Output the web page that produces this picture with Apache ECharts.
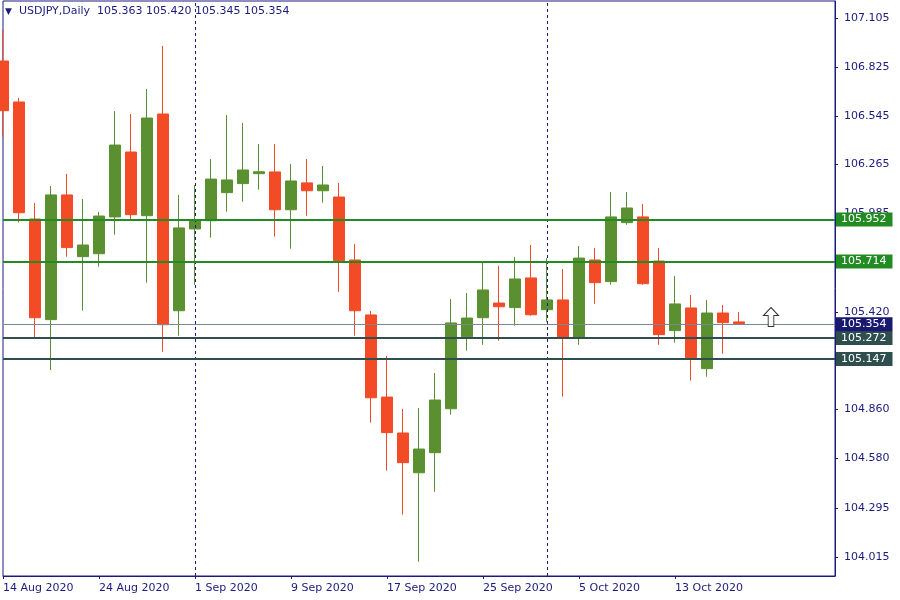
<!DOCTYPE html>
<html>
<head>
<meta charset="utf-8">
<script src="https://cdn.jsdelivr.net/npm/echarts@6/dist/echarts.min.js"></script>
<style>html,body{margin:0;padding:0;background:#fff}#c{width:900px;height:600px}</style>
</head>
<body>
<div id="c"></div>
<script>
const dates = ['14 Aug 2020','17 Aug 2020','18 Aug 2020','19 Aug 2020','20 Aug 2020','21 Aug 2020','24 Aug 2020','25 Aug 2020','26 Aug 2020','27 Aug 2020','28 Aug 2020','31 Aug 2020','1 Sep 2020','2 Sep 2020','3 Sep 2020','4 Sep 2020','7 Sep 2020','8 Sep 2020','9 Sep 2020','10 Sep 2020','11 Sep 2020','14 Sep 2020','15 Sep 2020','16 Sep 2020','17 Sep 2020','18 Sep 2020','21 Sep 2020','22 Sep 2020','23 Sep 2020','24 Sep 2020','25 Sep 2020','28 Sep 2020','29 Sep 2020','30 Sep 2020','1 Oct 2020','2 Oct 2020','5 Oct 2020','6 Oct 2020','7 Oct 2020','8 Oct 2020','9 Oct 2020','12 Oct 2020','13 Oct 2020','14 Oct 2020','15 Oct 2020','16 Oct 2020','19 Oct 2020'];
const opens  = [106.859,106.624,105.953,105.376,106.091,105.737,105.754,105.965,106.337,105.972,106.555,105.427,105.896,105.943,106.104,106.156,106.213,106.223,106.006,106.160,106.115,106.079,105.718,105.403,104.932,104.726,104.498,104.613,104.865,105.278,105.387,105.471,105.445,105.615,105.433,105.489,105.272,105.718,105.594,105.932,105.965,105.712,105.313,105.443,105.095,105.414,105.363];
const highs  = [107.037,106.647,106.045,106.142,106.211,106.068,105.993,106.572,106.555,106.699,106.945,106.091,106.148,106.297,106.549,106.504,106.383,106.383,106.268,106.297,106.257,106.160,105.810,105.426,105.168,104.864,104.869,105.070,105.494,105.529,105.701,105.684,105.735,105.804,105.729,105.666,105.798,105.787,106.108,106.108,106.039,105.787,105.626,105.517,105.489,105.460,105.420];
const lows   = [106.425,105.932,105.272,105.087,105.737,105.427,105.680,105.863,105.943,105.588,105.192,105.284,105.575,105.846,105.995,106.052,106.121,105.852,105.783,105.972,106.047,105.536,105.284,104.785,104.510,104.258,103.988,104.389,104.831,105.198,105.232,105.255,105.341,105.399,105.364,104.934,105.232,105.467,105.576,105.920,105.576,105.232,105.244,105.026,105.049,105.181,105.345];
const closes = [106.574,105.989,105.387,106.091,105.789,105.804,105.970,106.377,105.978,106.532,105.347,105.902,105.947,106.182,106.177,106.234,106.224,106.006,106.171,106.115,106.148,105.714,105.427,104.928,104.728,104.556,104.634,104.915,105.357,105.385,105.546,105.450,105.609,105.404,105.489,105.272,105.729,105.588,105.965,106.016,105.582,105.290,105.466,105.158,105.414,105.359,105.354];
const yTicks = [104.015,104.295,104.580,104.860,105.140,105.420,105.705,105.985,106.265,106.545,106.825,107.105];
const levels = [105.952,105.714,105.272,105.147];
const levelKinds = ['support','support','resist','resist'];
const arrowPoint = [48, 105.391];
const symbolName = 'USDJPY';
const timeframe = 'Daily';
const emptySlots = 6;

const NAVY = '#1b1b7e';
const FONT = 'DejaVu Sans';
const categories = dates.concat(Array.from({length: emptySlots}, () => ''));
const ohlc = dates.map((d, i) => [opens[i], closes[i], lows[i], highs[i]]);
const last = dates.length - 1;
const labelEvery = 6;
const showIdx = (i) => i < dates.length && i % labelEvery === 0;

const monthOf = s => s.split(' ')[1];
const separators = [];
for (let i = 1; i < dates.length; i++) {
  if (monthOf(dates[i]) !== monthOf(dates[i-1])) separators.push(i);
}

const kindStyle = {
  support: {line: '#228b22', bg: '#228b22', w: 2},
  resist:  {line: '#2f4f4f', bg: '#2f4f4f', w: 2}
};
const lblBase = {show: true, position: 'end', distance: 1, color: '#ffffff', fontFamily: FONT, fontSize: 11,
  padding: [2, 6, 1, 5]};
const hLines = levels.map((v, i) => ({
  yAxis: v,
  lineStyle: {color: kindStyle[levelKinds[i]].line, width: kindStyle[levelKinds[i]].w, type: 'solid'},
  label: Object.assign({}, lblBase, {backgroundColor: kindStyle[levelKinds[i]].bg, formatter: v.toFixed(3)})
}));
hLines.push({
  yAxis: closes[last],
  lineStyle: {color: '#778899', width: 1, type: 'solid'},
  label: Object.assign({}, lblBase, {backgroundColor: '#191970', formatter: closes[last].toFixed(3)})
});
const vLines = separators.map(i => ({
  xAxis: i,
  lineStyle: {color: NAVY, width: 1, type: [3, 3]},
  label: {show: false}
}));

const chart = echarts.init(document.getElementById('c'), null, {renderer: 'canvas'});
chart.setOption({
  animation: false,
  backgroundColor: '#ffffff',
  title: {
    text: '{t|▼}  ' + symbolName + ',' + timeframe + '  ' + [opens[last], highs[last], lows[last], closes[last]].map(v => v.toFixed(3)).join(' '),
    left: 5, top: 6, padding: 0,
    textStyle: {color: NAVY, fontFamily: FONT, fontSize: 11, fontWeight: 'normal',
      rich: {t: {fontSize: 9, color: NAVY, fontFamily: FONT}}}
  },
  grid: {left: 3, right: 65, top: 1, bottom: 24, show: true, borderColor: NAVY, borderWidth: 1, backgroundColor: 'transparent'},
  xAxis: {
    type: 'category',
    data: categories,
    boundaryGap: false,
    axisLine: {show: true, lineStyle: {color: NAVY}},
    axisTick: {show: true, length: 3, interval: (i) => showIdx(i), lineStyle: {color: NAVY}},
    axisLabel: {show: true, interval: (i) => showIdx(i), align: 'left', color: NAVY, fontFamily: FONT, fontSize: 11, margin: 7, hideOverlap: false},
    splitLine: {show: false}
  },
  yAxis: {
    type: 'value',
    position: 'right',
    min: 103.906,
    max: 107.203,
    axisLine: {show: true, lineStyle: {color: NAVY}},
    axisTick: {show: true, length: 3, customValues: yTicks, lineStyle: {color: NAVY}},
    axisLabel: {show: true, customValues: yTicks, color: NAVY, fontFamily: FONT, fontSize: 11, margin: 9,
      formatter: v => v.toFixed(3)},
    splitLine: {show: false}
  },
  series: [
    {
      type: 'candlestick',
      data: ohlc,
      barWidth: 11,
      clip: true,
      itemStyle: {color: '#5b9030', color0: '#f24b26', borderColor: '#5b9030', borderColor0: '#f24b26', borderWidth: 1},
      markLine: {
        silent: true,
        symbol: ['none', 'none'],
        animation: false,
        data: vLines.concat(hLines)
      }
    },
    {
      type: 'scatter',
      data: [arrowPoint],
      symbol: 'path://M8,0 L16,8 L11,8 L11,19 L5,19 L5,8 L0,8 Z',
      symbolSize: [15, 19],
      itemStyle: {color: '#ffffff', borderColor: '#000000', borderWidth: 1},
      silent: true,
      z: 5
    }
  ]
});
</script>
</body>
</html>
